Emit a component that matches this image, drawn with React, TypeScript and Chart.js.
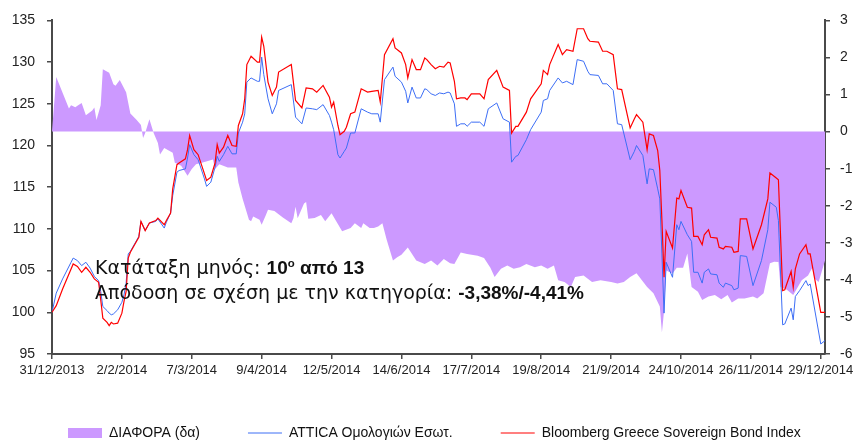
import React, { useEffect, useRef } from "react";
import { Chart, registerables } from "chart.js";

Chart.register(...registerables);

// ---------- DATA ----------
const startDate = "31/12/2013";
const xTickLabels = [
  "31/12/2013", "2/2/2014", "7/3/2014", "9/4/2014", "12/5/2014", "14/6/2014",
  "17/7/2014", "19/8/2014", "21/9/2014", "24/10/2014", "26/11/2014", "29/12/2014",
];
const leftTicks = [95, 100, 105, 110, 115, 120, 125, 130, 135];
const rightTicks = [-6, -5, -4, -3, -2, -1, 0, 1, 2, 3];

const seriesNames = ["ΔΙΑΦΟΡΑ (δα)", "ATTICA Ομολογιών Εσωτ.", "Bloomberg Greece Sovereign Bond Index"];

// days since 31/12/2013
const lineDays = [
  0, 2, 5, 9, 10, 12, 14, 16, 18, 20, 22, 23, 24, 26, 27, 28, 29, 31, 33, 34, 35, 36, 37, 39, 41, 42, 44, 46, 49, 50,
  53, 54, 56, 57, 59, 60, 63, 64, 65, 67, 69, 72, 73, 75, 77, 78, 79, 81, 83, 85, 87, 88, 90, 91, 92, 94, 97, 98, 99, 100,
  102, 104, 106, 107, 113, 115, 118, 120, 123, 125, 128, 131, 132, 133, 135, 136, 138, 139, 141, 143, 146, 149, 151, 154, 155, 157, 161, 162, 165, 167,
  168, 170, 172, 174, 176, 177, 179, 181, 183, 185, 187, 188, 190, 191, 193, 195, 196, 198, 202, 204, 206, 210, 213, 216, 217, 219, 220, 224, 226, 231,
  232, 234, 235, 239, 241, 243, 246, 248, 251, 253, 254, 258, 260, 262, 265, 267, 269, 273, 275, 276, 279, 281, 282, 284, 286, 287, 288, 289, 290, 293,
  295, 296, 297, 300, 302, 303, 305, 307, 308, 310, 311, 314, 315, 317, 318, 321, 322, 324, 325, 328, 331, 335, 338, 339, 342, 343, 345, 346, 349, 350,
  351, 353, 356, 357, 358, 363, 365,
];
const attica = [
  100.0, 102.3, 104.0, 106.0, 106.5, 106.2, 105.6, 106.0, 105.3, 104.3, 103.8, 102.5, 100.7, 100.2, 99.9, 99.7, 99.8, 100.3, 101.2, 102.1, 103.5, 107.0, 107.3, 108.2, 109.1, 110.9, 109.8, 110.7, 110.9, 111.2,
  110.1, 110.8, 111.9, 114.0, 116.8, 117.0, 117.2, 118.5, 120.1, 118.9, 118.3, 116.0, 115.1, 115.6, 117.4, 118.7, 118.1, 118.9, 119.9, 119.0, 119.0, 121.5, 122.8, 123.8, 127.6, 128.1, 127.7, 127.7, 130.6, 128.5,
  125.6, 123.8, 125.0, 126.6, 127.3, 123.4, 122.6, 124.5, 124.4, 124.3, 124.9, 123.6, 122.8, 121.9, 118.9, 118.5, 119.3, 119.7, 121.5, 121.5, 124.4, 124.0, 123.8, 123.8, 122.8, 127.9, 129.4, 128.3, 127.6, 126.5,
  125.1, 127.0, 125.7, 125.7, 126.8, 126.7, 126.2, 126.0, 126.3, 126.2, 126.4, 126.3, 125.0, 122.3, 122.6, 122.6, 122.3, 122.8, 122.8, 122.3, 124.4, 125.1, 123.2, 122.8, 118.0, 118.7, 118.8, 120.7, 121.9, 124.0,
  125.4, 125.6, 126.6, 128.1, 127.5, 127.7, 127.3, 130.3, 130.1, 128.9, 128.5, 128.4, 127.4, 127.4, 126.6, 122.6, 122.5, 118.3, 119.3, 120.0, 118.8, 115.4, 117.2, 117.1, 114.8, 113.6, 107.0, 99.9, 106.0, 104.2,
  110.5, 109.9, 110.9, 109.3, 108.5, 104.8, 104.8, 103.5, 104.8, 105.2, 104.6, 104.5, 103.5, 103.0, 103.5, 103.2, 102.7, 102.9, 106.8, 106.7, 103.2, 106.2, 109.9, 113.2, 112.6, 111.0, 98.5, 98.6, 100.5, 99.1,
  101.9, 102.6, 103.8, 103.2, 103.4, 96.2, 96.6,
];
const bloomberg = [
  100.0, 100.8, 102.8, 105.2, 105.8, 105.5, 104.8, 105.4, 104.8, 104.0, 103.6, 101.5, 99.3, 98.8, 98.4, 98.8, 98.6, 98.7, 99.9, 101.3, 102.5, 106.5, 107.2, 108.1, 109.0, 110.9, 109.8, 110.7, 111.0, 111.3,
  110.5, 111.0, 111.9, 114.8, 117.7, 117.9, 118.4, 119.5, 121.2, 119.5, 118.9, 116.6, 115.8, 116.2, 117.9, 120.1, 119.1, 119.8, 121.2, 120.0, 119.9, 122.4, 123.8, 125.6, 129.7, 130.7, 130.0, 130.0, 133.0, 131.9,
  127.6, 126.0, 127.0, 128.8, 129.7, 125.4, 124.5, 126.9, 126.8, 126.4, 127.2, 125.8, 124.6, 125.2, 122.4, 121.3, 121.7, 122.2, 123.8, 124.0, 126.8, 126.4, 126.5, 126.6, 125.2, 130.9, 132.8, 131.7, 131.1, 129.7,
  128.1, 130.3, 129.1, 129.1, 130.5, 130.3, 129.7, 129.2, 129.5, 129.4, 130.0, 129.9, 127.7, 125.6, 125.7, 125.7, 125.5, 126.2, 126.2, 125.6, 127.9, 129.0, 127.0, 126.6, 121.5, 122.3, 122.3, 124.0, 125.6, 127.4,
  129.0, 128.5, 129.7, 132.1, 130.9, 131.5, 131.3, 134.0, 134.0, 132.8, 132.5, 132.4, 131.3, 131.3, 130.9, 126.8, 126.7, 122.1, 123.2, 123.7, 122.8, 119.5, 121.4, 121.2, 119.4, 117.0, 111.0, 104.2, 109.7, 107.7,
  113.7, 113.6, 114.6, 112.6, 112.5, 109.1, 109.1, 108.1, 109.3, 109.9, 109.0, 108.9, 107.8, 107.6, 107.9, 107.8, 107.2, 107.3, 111.2, 111.2, 107.6, 110.5, 113.6, 116.7, 116.1, 115.9, 102.6, 102.7, 104.9, 103.0,
  105.2, 107.0, 108.1, 107.0, 107.0, 100.0, 100.0,
];

const diffDays = [
  0, 2, 8, 9, 11, 12, 14, 16, 19, 20, 21, 23, 24, 27, 29, 30, 32, 35, 37, 40, 42, 43, 44, 46, 48, 50, 51, 53, 57, 58,
  61, 64, 66, 68, 72, 76, 77, 79, 83, 87, 88, 90, 93, 94, 95, 98, 99, 101, 102, 105, 109, 113, 114, 115, 116, 119, 120, 121, 124, 127,
  129, 132, 134, 137, 141, 143, 146, 147, 150, 152, 154, 156, 158, 161, 163, 165, 168, 172, 176, 179, 182, 185, 188, 190, 193, 196, 201, 204, 207, 209,
  212, 215, 218, 221, 224, 228, 231, 234, 237, 239, 242, 245, 247, 251, 255, 259, 264, 267, 270, 273, 276, 278, 281, 284, 287, 288, 289, 290, 293, 295,
  298, 300, 302, 305, 307, 310, 313, 316, 319, 321, 324, 327, 331, 333, 336, 339, 341, 343, 344, 347, 350, 354, 357, 359, 360, 362, 365,
];
const diffValues = [
  0, 1.47, 0.62, 0.71, 0.66, 0.7, 0.77, 0.44, 0.57, 0.65, 0.31, 0.71, 1.68, 1.59, 1.28, 1.24, 1.39, 1.06, 0.49, 0.31, 0.18, -0.17, -0.04, 0.33, -0.04, -0.31, -0.62, -0.44, -0.57, -0.84,
  -0.92, -1.19, -1.01, -0.88, -0.82, -0.75, -1.01, -0.88, -0.97, -0.97, -1.37, -1.81, -2.38, -2.42, -2.29, -2.38, -2.51, -2.25, -2.11, -2.14, -2.32, -2.47, -2.34, -2.03, -2.34, -1.94, -1.9, -2.35, -2.33, -2.25,
  -2.42, -2.2, -2.4, -2.69, -2.6, -2.47, -2.6, -2.47, -2.6, -2.6, -2.56, -2.47, -2.91, -3.48, -3.39, -3.32, -3.13, -3.48, -3.57, -3.48, -3.61, -3.44, -3.55, -3.57, -3.26, -3.3, -3.35, -3.41, -3.67, -3.92,
  -3.7, -3.61, -3.7, -3.66, -3.57, -3.66, -3.61, -3.7, -3.61, -4.01, -4.06, -4.19, -3.92, -3.88, -4.06, -4.01, -4.06, -4.1, -4.06, -3.92, -3.82, -3.97, -4.19, -4.36, -4.72, -5.42, -4.85, -3.75, -3.83, -3.67,
  -3.67, -3.29, -4.19, -4.32, -4.54, -4.45, -4.41, -4.52, -4.41, -4.61, -4.5, -4.5, -4.45, -4.5, -4.36, -3.55, -3.51, -3.52, -4.19, -4.27, -4.41, -4.01, -3.88, -3.67, -3.96, -4.06, -3.48,
];

// ---------- HELPERS ----------
const DAY_MS = 86400000;
const parseDMY = (s: string) => {
  const [d, m, y] = s.split("/").map(Number);
  return Date.UTC(y, m - 1, d);
};
const dayOffset = (s: string) => Math.round((parseDMY(s) - parseDMY(startDate)) / DAY_MS);
const xTickDays = xTickLabels.map(dayOffset);
const endDay = dayOffset("31/12/2014");

const AXIS_COLOR = "#4a4a4a";
const TICK_FONT = { family: "'Liberation Sans', Arial, sans-serif", size: 14 };
const LEGEND_H = 63;
const LEGEND_PAD = 48;
const LEGEND_START = 68;

const legendSizePlugin = {
  id: "legendSize",
  afterInit(chart: any) {
    const lg = chart.legend;
    if (!lg) return;
    const orig = lg.fit;
    lg.fit = function () {
      const mw = this.maxWidth;
      this.maxWidth = 5000;
      orig.call(this);
      this.maxWidth = mw;
      this.width = mw;
      this.height = LEGEND_H;
    };
  },
  afterLayout(chart: any) {
    const lg = chart.legend;
    if (!lg) return;
    lg.left = LEGEND_START - LEGEND_PAD;
    lg.right = 5000;
  },
};

export default function App() {
  const ref = useRef<HTMLCanvasElement | null>(null);

  useEffect(() => {
    if (!ref.current) return;
    const chart = new Chart(ref.current, {
      type: "line",
      data: {
        datasets: [
          {
            label: seriesNames[0],
            data: diffDays.map((d, i) => ({ x: d, y: diffValues[i] })),
            yAxisID: "y1",
            fill: "origin",
            backgroundColor: "#cc99ff",
            borderColor: "#cc99ff",
            borderWidth: 0,
            pointRadius: 0,
            pointStyle: "rect",
            tension: 0,
            order: 3,
          },
          {
            label: seriesNames[1],
            data: lineDays.map((d, i) => ({ x: d, y: attica[i] })),
            yAxisID: "y",
            fill: false,
            borderColor: "#3d6ef5",
            backgroundColor: "#3d6ef5",
            borderWidth: 1,
            pointRadius: 0,
            pointStyle: "line",
            tension: 0,
            order: 2,
          },
          {
            label: seriesNames[2],
            data: lineDays.map((d, i) => ({ x: d, y: bloomberg[i] })),
            yAxisID: "y",
            fill: false,
            borderColor: "#ff0000",
            backgroundColor: "#ff0000",
            borderWidth: 1.2,
            pointRadius: 0,
            pointStyle: "line",
            tension: 0,
            order: 1,
          },
        ],
      },
      options: {
        animation: false,
        responsive: true,
        maintainAspectRatio: false,
        layout: { padding: { left: 0, right: 0, top: 15, bottom: 0 } },
        plugins: {
          tooltip: { enabled: false },
          legend: {
            position: "bottom",
            align: "start",
            labels: {
              usePointStyle: true,
              pointStyleWidth: 34,
              boxHeight: 10,
              padding: LEGEND_PAD,
              color: "#111",
              sort: (a: any, b: any) => a.datasetIndex - b.datasetIndex,
              font: { family: "'Liberation Sans', Arial, sans-serif", size: 14 },
            },
          },
        },
        scales: {
          x: {
            type: "linear",
            min: 0,
            max: endDay,
            afterBuildTicks: (scale: any) => {
              scale.ticks = xTickDays.map((v) => ({ value: v }));
            },
            afterFit: (scale: any) => {
              scale.height = 441 - 354 - LEGEND_H;
            },
            ticks: {
              autoSkip: false,
              maxRotation: 0,
              padding: 4,
              color: "#222",
              font: { ...TICK_FONT, size: 13 },
              callback: (v: any) => {
                const i = xTickDays.indexOf(Number(v));
                return i >= 0 ? xTickLabels[i] : "";
              },
            },
            grid: { drawOnChartArea: false, tickLength: 5, color: AXIS_COLOR, lineWidth: 1.5 },
            border: { color: AXIS_COLOR, width: 2 },
          },
          y: {
            position: "left",
            min: leftTicks[0],
            max: leftTicks[leftTicks.length - 1],
            afterBuildTicks: (scale: any) => {
              scale.ticks = leftTicks.map((v) => ({ value: v }));
            },
            afterFit: (scale: any) => {
              scale.width = 52;
            },
            ticks: { padding: 12, color: "#222", font: TICK_FONT },
            grid: { drawOnChartArea: false, tickLength: 5, color: AXIS_COLOR, lineWidth: 1.5 },
            border: { color: AXIS_COLOR, width: 2 },
          },
          y1: {
            position: "right",
            min: rightTicks[0],
            max: rightTicks[rightTicks.length - 1],
            afterBuildTicks: (scale: any) => {
              scale.ticks = rightTicks.map((v) => ({ value: v }));
            },
            afterFit: (scale: any) => {
              scale.width = 33;
            },
            ticks: { padding: 10, color: "#222", font: TICK_FONT, callback: (v: any) => String(v) },
            grid: { drawOnChartArea: false, tickLength: 5, color: AXIS_COLOR, lineWidth: 1.5 },
            border: { color: AXIS_COLOR, width: 2 },
          },
        },
      },
      plugins: [legendSizePlugin],
    } as any);
    return () => chart.destroy();
  }, []);

  return (
    <div style={{ position: "absolute", left: 0, top: 0, width: 858, height: 441, background: "#fff" }}>
      <canvas ref={ref} />
      <div
        style={{
          position: "absolute",
          left: 95,
          top: 255,
          font: "19px 'DejaVu Sans', sans-serif",
          lineHeight: "24px",
          color: "#111",
          whiteSpace: "nowrap",
          pointerEvents: "none",
        }}
      >
        <div>
          Κατάταξη μηνός:{" "}
          <b style={{ fontFamily: "'Liberation Sans', Arial, sans-serif" }}>
            10<sup style={{ fontSize: "0.6em", lineHeight: 0, verticalAlign: "0.6em" }}>ο</sup> από 13
          </b>
        </div>
        <div>
          Απόδοση σε σχέση με την κατηγορία:{" "}
          <b style={{ fontFamily: "'Liberation Sans', Arial, sans-serif" }}>-3,38%/-4,41%</b>
        </div>
      </div>
    </div>
  );
}
